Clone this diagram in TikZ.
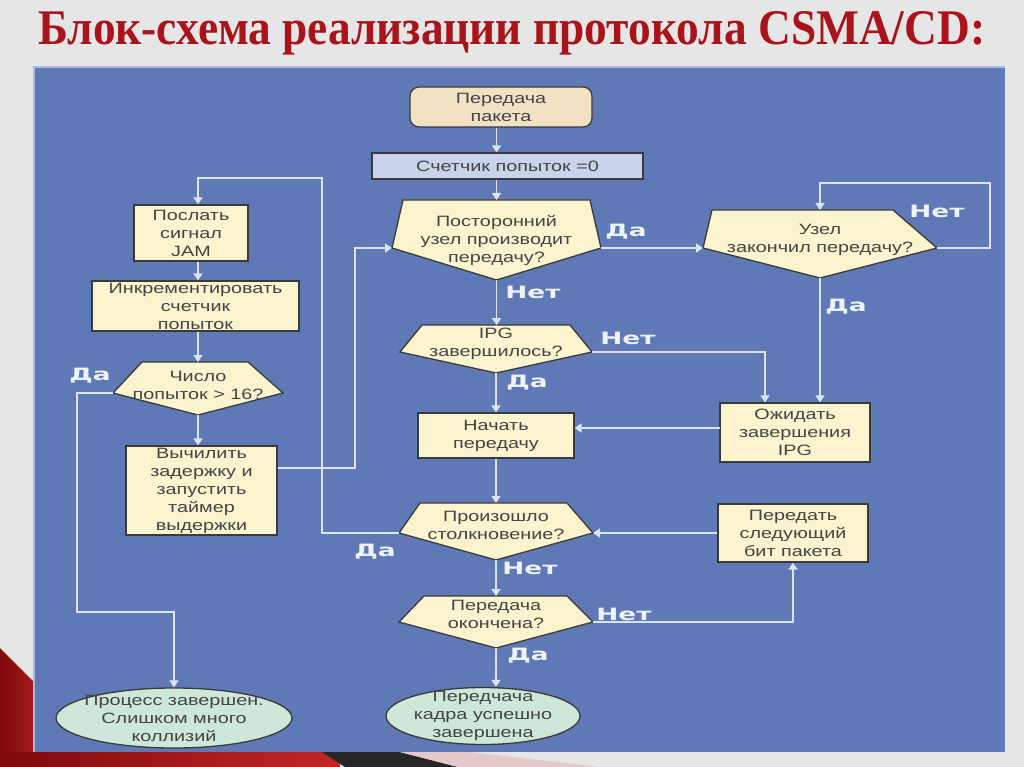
\documentclass[tikz,border=0pt]{standalone}
\usepackage{fontspec}
\usepackage{graphicx}
\usetikzlibrary{arrows.meta,shapes.geometric,calc}
\setmainfont{Liberation Sans}
\newfontfamily\boxfont[FakeStretch=1.32]{Liberation Sans}
\newfontfamily\lblfont[FakeStretch=1.55]{DejaVu Sans}
\newfontfamily\titlefont{Liberation Serif}
\definecolor{bgc}{HTML}{E6E6E6}
\definecolor{panelc}{HTML}{5F79B6}
\definecolor{paneledge}{HTML}{A8BCE3}
\definecolor{linec}{HTML}{D9E4F6}
\definecolor{boxfill}{HTML}{FCF4CE}
\definecolor{startfill}{HTML}{F3E1C3}
\definecolor{cntfill}{HTML}{C9D3EC}
\definecolor{ellfill}{HTML}{CDE7D9}
\definecolor{bordc}{HTML}{3A3A3A}
\definecolor{textc}{HTML}{444444}
\definecolor{titlec}{HTML}{A8141A}
\definecolor{lblc}{HTML}{EEF2FA}
\definecolor{reddark}{HTML}{7E0A0A}
\definecolor{redlight}{HTML}{C42626}
\definecolor{rosec}{HTML}{E3C9C9}
\newcommand{\decision}[9]{%
  \coordinate (#1L) at (#2,#7);
  \coordinate (#1R) at (#5,#7);
  \coordinate (#1B) at ({(#2+#5)/2},#8);
  \coordinate (#1T) at ({(#2+#5)/2},#6);
  \draw[decbox] (#3,#6) -- (#4,#6) -- (#1R) -- (#1B) -- (#1L) -- cycle;
  \node[dtext] (#1) at ({(#2+#5)/2},{#7-8}) {#9};
}
\begin{document}
\begin{tikzpicture}[x=1pt,y=-1pt,
  txt/.style={font=\boxfont\fontsize{15}{18}\selectfont, text=textc, align=center},
  procbox/.style={txt, draw=bordc, line width=1.3pt, fill=boxfill, inner sep=0pt},
  decbox/.style={draw=bordc, line width=1.3pt, fill=boxfill, line join=miter},
  dtext/.style={txt, inner sep=0pt},
  ellbox/.style={ellipse, draw=bordc, line width=1.3pt, fill=ellfill, inner sep=0pt},
  conn/.style={draw=linec, line width=1.8pt, -{Triangle[width=9pt,length=7pt]}},
  lbl/.style={font=\lblfont\bfseries\fontsize{17}{17}\selectfont, text=lblc, inner sep=0pt}]
\useasboundingbox (0,0) rectangle (1024,767);
\fill[bgc] (0,0) rectangle (1024,767);
% slide decoration
\shade[left color=reddark,right color=redlight] (0,648) -- (60,708) -- (60,767) -- (0,767) -- cycle;
\shade[left color=reddark,right color=redlight] (0,752) rectangle (340,767);
\fill[black!85] (322,752) -- (400,752) -- (458,767) -- (345,767) -- cycle;
\fill[rosec] (400,752) -- (470,752) -- (600,767) -- (458,767) -- cycle;
\fill[panelc] (34,67) rectangle (1005,752);
\draw[paneledge, line width=1.2pt] (34,752) -- (34,67) -- (1005,67);
% title
\node[anchor=base west, inner sep=0pt, text=titlec] (title) at (38,45)
  {\resizebox{947pt}{33pt}{\titlefont\bfseries Блок-схема реализации протокола CSMA/CD:}};
% boxes
\node[procbox, fill=startfill, rounded corners=9pt, minimum width=182pt, minimum height=40pt] (start) at (501,107) {Передача\\пакета};
\node[procbox, fill=cntfill, minimum width=271pt, minimum height=26pt] (cnt) at (507.5,166) {Счетчик попыток =0};
\decision{d1}{392}{403}{590}{601}{200}{248}{280}{Посторонний\\узел производит\\передачу?}
\decision{d3}{703}{712}{893}{937}{210}{248}{278}{Узел\\закончил передачу?}
\decision{d2}{400}{422}{570}{592}{325}{352}{373}{IPG\\завершилось?}
\node[procbox, minimum width=156pt, minimum height=45pt] (begin) at (496,435.5) {Начать\\передачу};
\node[procbox, minimum width=150pt, minimum height=59pt] (wait) at (795,432.5) {Ожидать\\завершения\\IPG};
\decision{d5}{399}{420}{567}{593}{503}{533}{560}{Произошло\\столкновение?}
\node[procbox, minimum width=150pt, minimum height=58pt] (next) at (793,533) {Передать\\следующий\\бит пакета};
\decision{d6}{399}{424}{567}{593}{596}{622}{648}{Передача\\окончена?}
\node[ellbox, minimum width=194pt, minimum height=57pt] (ok) at (483,716) {};
\node[dtext] (okt) at (483,716) {Передчача\\кадра успешно\\завершена};
\node[procbox, minimum width=114pt, minimum height=56pt] (jam) at (191,233) {Послать\\сигнал\\JAM};
\node[procbox, minimum width=207pt, minimum height=50pt] (inc) at (195.5,306) {Инкрементировать\\счетчик\\попыток};
\decision{d4}{113}{142}{248}{283}{362}{393}{415}{Число\\попыток > 16?}
\node[procbox, minimum width=151pt, minimum height=89pt] (calc) at (201.5,490.5) {Вычилить\\задержку и\\запустить\\таймер\\выдержки};
\node[ellbox, minimum width=236pt, minimum height=60pt] (fail) at (174,718) {};
\node[dtext] (failt) at (174,718) {Процесс завершен.\\Слишком много\\коллизий};
% helper corners
\coordinate (loopA) at (990,183);
\coordinate (w1) at (765,352);
\coordinate (wa) at (720,428);
\coordinate (jA) at (322,178);
\coordinate (f1) at (77,612);
\coordinate (c1) at (355,468);
% connectors
\draw[conn] (d1T |- start.south) -- (d1T |- cnt.north);
\draw[conn] (d1T |- cnt.south) -- (d1T);
\draw[conn] (d1R) -- (d3L);
\draw[conn] (d3R) -| (loopA) -| (d3T);
\draw[conn] (d3B) -- (d3B |- wait.north);
\draw[conn] (d1B) -- (d1B |- d2T);
\draw[conn] (d2R) -- (w1) -- (w1 |- wait.north);
\draw[conn] (d2B) -- (d2B |- begin.north);
\draw[conn] (wa) -- (wa -| begin.east);
\draw[conn] (d5T |- begin.south) -- (d5T);
\draw[conn] (next.west |- d5R) -- (d5R);
\draw[conn] (d5L) -| (jA) -| (d4B |- jam.north);
\draw[conn] (d4B |- jam.south) -- (d4B |- inc.north);
\draw[conn] (d4B |- inc.south) -- (d4T);
\draw[conn] (d4B) -- (d4B |- calc.north);
\draw[conn] (d4L) -| (f1) -| (fail.north);
\draw[conn] (c1 -| calc.east) -- (c1) |- (d1L);
\draw[conn] (d5B) -- (d6T);
\draw[conn] (d6R) -| (next.south);
\draw[conn] (d6B) -- (d6B |- ok.north);
% labels
\node[lbl] (l1) at (626,232) {Да};
\node[lbl] (l2) at (937,211) {Нет};
\node[lbl] (l3) at (846,307) {Да};
\node[lbl] (l4) at (533,292) {Нет};
\node[lbl] (l5) at (628,338) {Нет};
\node[lbl] (l6) at (527,383) {Да};
\node[lbl] (l7) at (375,552) {Да};
\node[lbl] (l8) at (530,568) {Нет};
\node[lbl] (l9) at (624,614) {Нет};
\node[lbl] (l10) at (528,656) {Да};
\node[lbl] (l11) at (90,376) {Да};
\end{tikzpicture}
\end{document}
